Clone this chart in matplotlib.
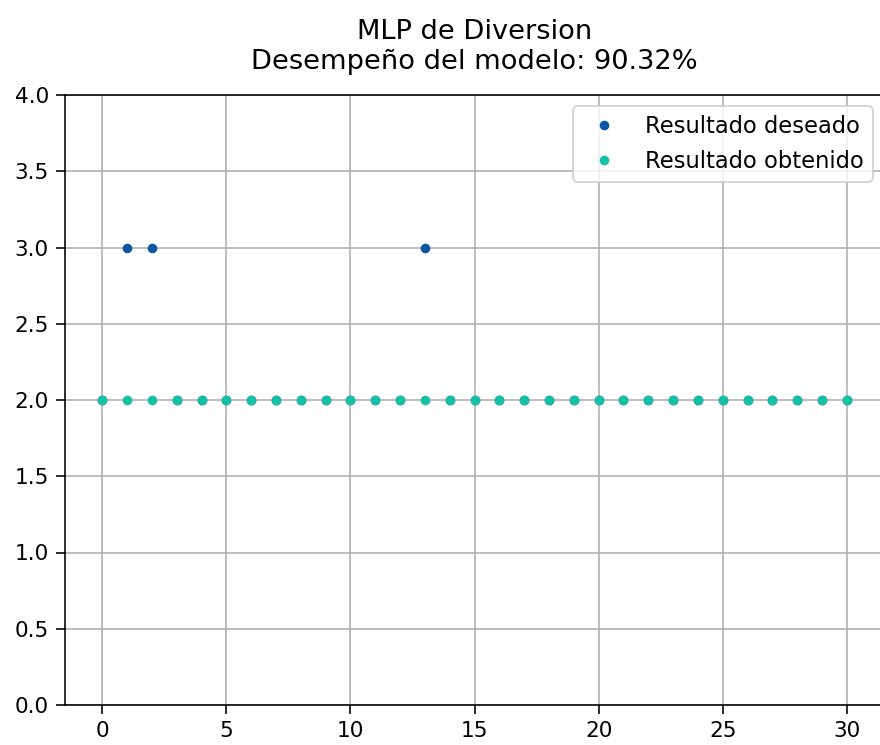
import matplotlib
matplotlib.use("Agg")
import matplotlib.pyplot as plt
import numpy as np

x = list(range(31))
deseado = [2, 3, 3, 2, 2, 2, 2, 2, 2, 2, 2, 2, 2, 3, 2, 2, 2, 2, 2, 2, 2, 2, 2, 2, 2, 2, 2, 2, 2, 2, 2]
obtenido = [2] * 31
title = "MLP de Diversion\nDesempeño del modelo: 90.32%"

dpi = 144
fig = plt.figure(figsize=(880 / dpi, 745 / dpi), dpi=dpi)
ax = fig.add_axes([65 / 880, 40 / 745, (884 - 65) / 880, (705 - 95) / 745])
ax.plot(x, deseado, linestyle="none", marker="o", ms=3.8, mew=1, color="#0b56a4", label="Resultado deseado")
ax.plot(x, obtenido, linestyle="none", marker="o", ms=3.8, mew=1, color="#14c0a6", label="Resultado obtenido")
ax.set_ylim(0, 4)
ax.set_yticks(np.arange(0, 4.01, 0.5))
ax.set_xticks([0, 5, 10, 15, 20, 25, 30])
ax.tick_params(labelsize=10.8, length=4.5, pad=3.5)
ax.grid(True, color="#b0b0b0", linewidth=0.8)
ax.set_axisbelow(True)
ax.legend(loc="upper right", fontsize=11.3)
ax.set_title(title, fontsize=13.6, pad=13)
fig.savefig("out.png", dpi=dpi)
